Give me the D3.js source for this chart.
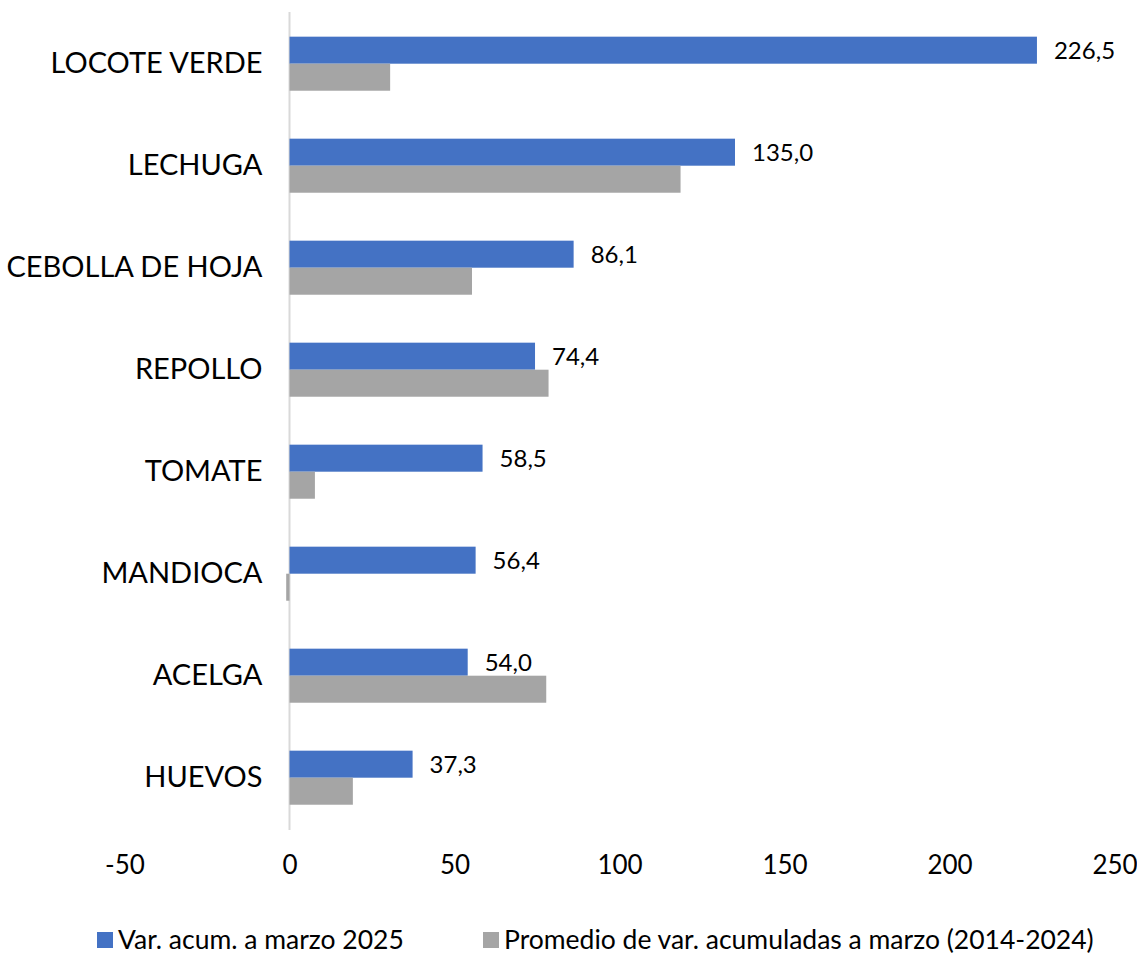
<!DOCTYPE html>
<html>
<head>
<meta charset="utf-8">
<script src="https://cdn.jsdelivr.net/npm/d3@7"></script>
<style>
  body { margin: 0; background: #fff; }
  text { font-family: Lato, 'Open Sans', sans-serif; fill: #000; }
</style>
</head>
<body>
<div id="chart"></div>
<script>
const categories = ['LOCOTE VERDE', 'LECHUGA', 'CEBOLLA DE HOJA', 'REPOLLO', 'TOMATE', 'MANDIOCA', 'ACELGA', 'HUEVOS']
const var2025 = [226.5, 135.0, 86.1, 74.4, 58.5, 56.4, 54.0, 37.3]
const promedio = [30.5, 118.5, 55.3, 78.5, 7.7, -1.0, 77.8, 19.2]
const seriesNames = ['Var. acum. a marzo 2025', 'Promedio de var. acumuladas a marzo (2014-2024)']
const seriesColors = ['#4472C4', '#A5A5A5']
const xTicks = [-50, 0, 50, 100, 150, 200, 250]

const width = 1137
const height = 957

const svg = d3.select('#chart')
  .append('svg')
  .attr('width', width)
  .attr('height', height)

// scales
const x = d3.scaleLinear().domain([-50, 250]).range([124.5, 1114.5])
const y = d3.scaleBand().domain(categories).range([12.7, 828.7]).paddingInner(0.47).paddingOuter(0.235)
const ySub = d3.scaleBand().domain([0, 1]).range([0, y.bandwidth()])

// zero line
svg.append('line')
  .attr('x1', x(0)).attr('x2', x(0))
  .attr('y1', 12).attr('y2', 830)
  .attr('stroke', '#D9D9D9')
  .attr('stroke-width', 2)

// bars
const rows = categories.map((c, i) => ({ c, vals: [var2025[i], promedio[i]] }))

rows.forEach(({ c, vals }) => {
  vals.forEach((v, k) => {
    svg.append('rect')
      .attr('x', x(Math.min(0, v)))
      .attr('y', y(c) + ySub(k))
      .attr('width', Math.abs(x(v) - x(0)))
      .attr('height', ySub.bandwidth())
      .attr('fill', seriesColors[k])
  })
  // data label on blue bar
  svg.append('text')
    .attr('x', x(vals[0]) + 17)
    .attr('y', y(c) + ySub(0) + ySub.bandwidth() / 2)
    .attr('dy', '0.35em')
    .attr('font-size', 24)
    .text(d3.format('.1f')(vals[0]).replace('.', ','))
})

// category axis
const yAxis = svg.append('g')
  .attr('transform', `translate(${x(0)},0)`)
  .call(d3.axisLeft(y).tickSize(0).tickPadding(27))
yAxis.select('.domain').remove()
yAxis.selectAll('text')
  .attr('font-size', 29)
  .attr('font-family', 'Lato, sans-serif')
  .attr('fill', '#000')

// value axis
const xAxis = svg.append('g')
  .attr('transform', 'translate(0,850)')
  .call(d3.axisBottom(x).tickValues(xTicks).tickSize(0).tickPadding(6).tickFormat(d => String(d)))
xAxis.select('.domain').remove()
xAxis.selectAll('text')
  .attr('font-size', 26)
  .attr('font-family', 'Lato, sans-serif')
  .attr('fill', '#000')

// legend
const legendX = [97, 483]
seriesNames.forEach((name, k) => {
  const g = svg.append('g').attr('transform', `translate(${legendX[k]},932)`)
  g.append('rect')
    .attr('width', 16)
    .attr('height', 16)
    .attr('fill', seriesColors[k])
  g.append('text')
    .attr('x', 21)
    .attr('y', 8)
    .attr('dy', '0.35em')
    .attr('font-size', 26.5)
    .text(name)
})
</script>
</body>
</html>
